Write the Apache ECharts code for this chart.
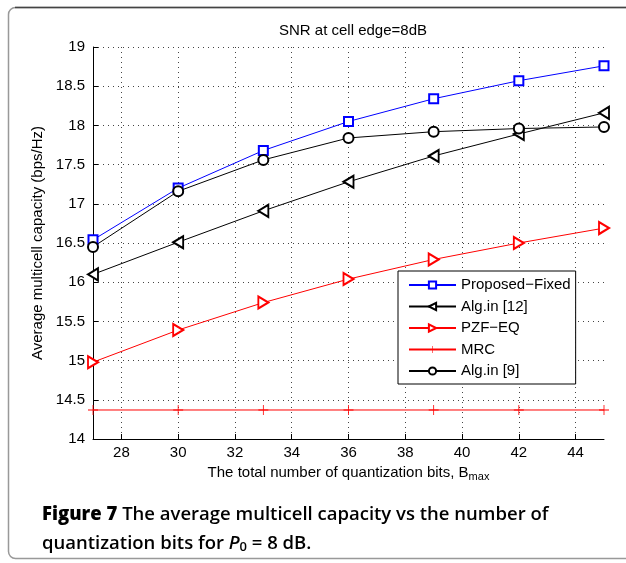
<!DOCTYPE html>
<html>
<head>
<meta charset="utf-8">
<script src="https://cdn.jsdelivr.net/npm/echarts@6/dist/echarts.min.js"></script>
<style>
  html, body { margin: 0; padding: 0; background: #fff; }
  #chart { width: 626px; height: 563px; }
</style>
</head>
<body>
<div id="chart"></div>
<script>
// quantization bits (x)
const bits = [27, 30, 33, 36, 39, 42, 45];
const xTicks = [28, 30, 32, 34, 36, 38, 40, 42, 44];

// capacity values (bps/Hz)
const proposedFixed = [16.54, 17.2, 17.68, 18.05, 18.34, 18.57, 18.76];
const algIn12 = [16.1, 16.51, 16.91, 17.28, 17.61, 17.89, 18.16];
const pzfEq = [14.98, 15.39, 15.74, 16.04, 16.29, 16.5, 16.69];
const mrc = [14.37, 14.37, 14.37, 14.37, 14.37, 14.37, 14.37];
const algIn9 = [16.45, 17.16, 17.56, 17.84, 17.92, 17.96, 17.98];

const pair = (ys) => bits.map((x, i) => [x, ys[i]]);

const plusPath = "path://M4.6,0 H5.4 V4.6 H10 V5.4 H5.4 V10 H4.6 V5.4 H0 V4.6 H4.6 Z";
const font = "Liberation Sans, Arial, sans-serif";
const capFont = "Open Sans, Noto Sans, sans-serif";

const myChart = echarts.init(document.getElementById("chart"));

const lineSeries = (name, data, color, symbol, size, rotate, border) => ({
  name: name,
  type: "line",
  data: pair(data),
  symbol: symbol,
  symbolSize: size,
  symbolRotate: rotate || 0,
  showAllSymbol: true,
  lineStyle: { color: color, width: 1 },
  itemStyle: { color: color, borderColor: color, borderWidth: border === undefined ? 1 : border },
  emphasis: { disabled: true },
  animation: false,
  z: 3,
});

var option = {
  animation: false,
  title: {
    text: "SNR at cell edge=8dB",
    left: 348,
    textAlign: "center",
    top: 18,
    textStyle: { fontFamily: font, fontSize: 15, fontWeight: "normal", color: "#000" },
  },
  grid: { left: 93, right: 22, top: 47, bottom: 124, containLabel: false },
  xAxis: {
    type: "value",
    min: 27,
    max: 45,
    name: "The total number of quantization bits, B{sub|max}",
    nameLocation: "middle",
    nameGap: 22,
    nameTextStyle: {
      fontFamily: font,
      fontSize: 15,
      color: "#000",
      verticalAlign: "top",
      rich: { sub: { fontFamily: font, fontSize: 11, color: "#000", padding: [10, 0, 0, 0] } },
    },
    axisLine: { lineStyle: { color: "#000", width: 1 } },
    axisTick: { inside: true, length: 5, customValues: xTicks, lineStyle: { color: "#000" } },
    axisLabel: { customValues: xTicks, fontFamily: font, fontSize: 15, color: "#000", margin: 6 },
    splitLine: { show: true, lineStyle: { color: "#444", type: [1, 4], width: 1 } },
  },
  yAxis: {
    type: "value",
    min: 14,
    max: 19,
    interval: 0.5,
    name: "Average multicell capacity (bps/Hz)",
    nameLocation: "middle",
    nameGap: 46,
    nameTextStyle: { fontFamily: font, fontSize: 15, color: "#000" },
    axisLine: { show: true, lineStyle: { color: "#000", width: 1 } },
    axisTick: { show: true, inside: true, length: 5, lineStyle: { color: "#000" } },
    axisLabel: { fontFamily: font, fontSize: 15, color: "#000", margin: 8 },
    splitLine: { show: true, lineStyle: { color: "#444", type: [1, 4], width: 1 } },
  },
  legend: {
    orient: "vertical",
    left: 398,
    top: 271,
    padding: [6.5, 5, 5.5, 10],
    itemWidth: 47,
    itemHeight: 9,
    itemGap: 6.5,
    backgroundColor: "#fff",
    borderColor: "#000",
    borderWidth: 1,
    borderRadius: 0,
    selectedMode: false,
    textStyle: { fontFamily: font, fontSize: 15, color: "#000" },
    data: ["Proposed−Fixed", "Alg.in [12]", "PZF−EQ", "MRC", "Alg.in [9]"],
  },
  series: [
    lineSeries("Proposed−Fixed", proposedFixed, "#0000ff", "emptyRect", 9),
    lineSeries("Alg.in [12]", algIn12, "#000000", "emptyTriangle", [12, 10], 90),
    lineSeries("PZF−EQ", pzfEq, "#ff0000", "emptyTriangle", [12, 10], -90),
    lineSeries("MRC", mrc, "#ff0000", plusPath, 10, 0, 0),
    lineSeries("Alg.in [9]", algIn9, "#000000", "emptyCircle", 10),
  ],
  graphic: [
    {
      type: "rect",
      shape: { x: 8.5, y: 7.5, width: 700, height: 551, r: 7 },
      style: { fill: "none", stroke: "#999", lineWidth: 1.5 },
      silent: true,
    },
    {
      type: "line",
      shape: { x1: 15, y1: 7.5, x2: 626, y2: 7.5 },
      style: { stroke: "#444", lineWidth: 1.5 },
      silent: true,
    },
    {
      type: "text",
      left: 42,
      top: 500,
      style: {
        text: "{b|Figure 7} The average multicell capacity vs the number of\nquantization bits for {i|P}{sub|0} = 8 dB.",
        fontFamily: capFont,
        fontSize: 18.5,
        fontWeight: 600,
        lineHeight: 29,
        fill: "#000",
        rich: {
          b: { fontFamily: capFont, fontSize: 18.5, fontWeight: 800, lineHeight: 29 },
          i: { fontFamily: capFont, fontSize: 18.5, fontWeight: 600, fontStyle: "italic", lineHeight: 29 },
          sub: { fontFamily: capFont, fontSize: 13, fontWeight: 600, lineHeight: 29, padding: [8, 0, 0, 0] },
        },
      },
    },
  ],
};

option && myChart.setOption(option);
</script>
</body>
</html>
